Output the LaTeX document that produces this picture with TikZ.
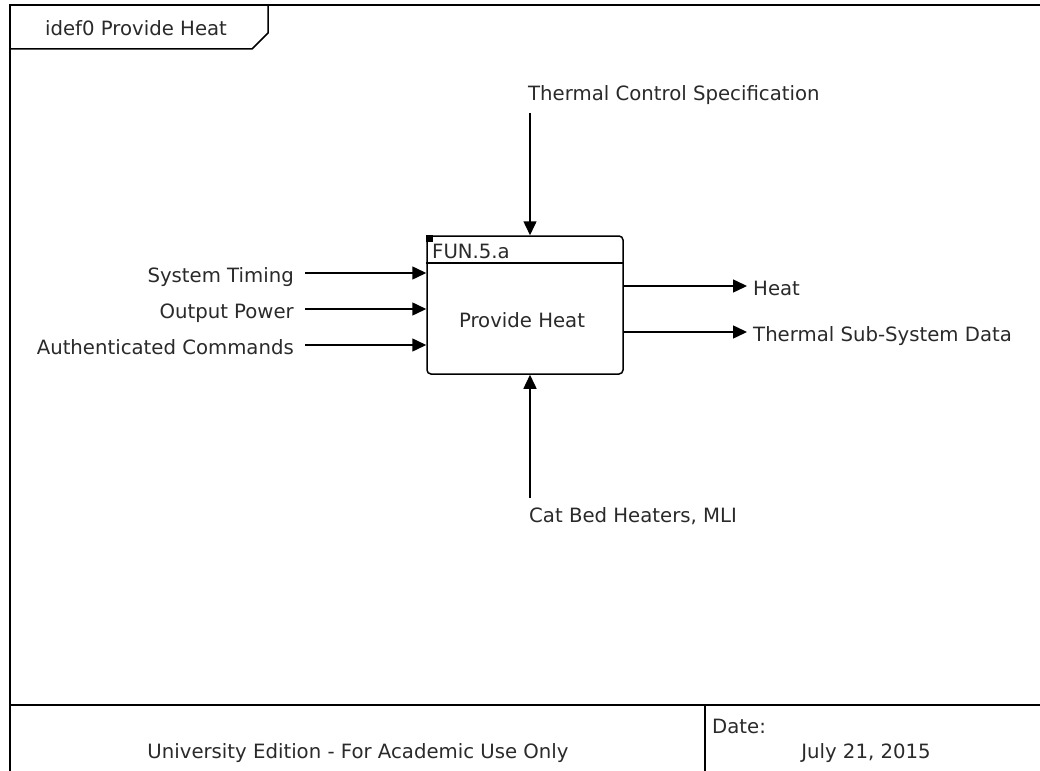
\documentclass[tikz,border=0pt]{standalone}
\usepackage{fontspec}
\setmainfont{DejaVu Sans}
\usetikzlibrary{arrows.meta}
\definecolor{txt}{HTML}{2A2A2A}
\begin{document}
\begin{tikzpicture}[x=1pt,y=-1pt,
  lbl/.style={inner sep=0pt, font=\fontsize{19.7}{24}\selectfont, text=txt},
  frameline/.style={line width=2.8pt, draw=black},
  flow/.style={line width=1.5pt, -{Triangle[length=14pt,width=13pt]}},
  funcbox/.style={draw, line width=1.5pt, rounded corners=4pt, minimum width=196pt, minimum height=138pt, inner sep=0pt}
]
\useasboundingbox (0,0) rectangle (1040,770);
\fill[white] (0,0) rectangle (1040,770);
% outer frame
\draw[frameline] (10,775) -- (10,5) -- (1045,5);
\draw[frameline] (10,705) -- (1045,705);
\draw[frameline] (705,705) -- (705,775);
% tab
\draw[line width=1.5pt] (10,49) -- (252,49) -- (268,33) -- (268,5);
\node[lbl, anchor=base] (tab) at (136,36) {idef0 Provide Heat};
% function box
\node[funcbox] (box) at (525,305) {};
\coordinate (hy) at (0,263);
\draw[line width=1.5pt] (box.west |- hy) -- (box.east |- hy);
\fill (box.north west) rectangle ++(7,7);
\node[lbl, anchor=base west] (fid) at (432,258) {FUN.5.a};
\node[lbl] (fname) at (522,320) {Provide Heat};
% inputs
\coordinate (s1) at (305,273);
\coordinate (s2) at (305,309);
\coordinate (s3) at (305,345);
\node[lbl, anchor=base east] (i1) at (294,282) {System Timing};
\node[lbl, anchor=base east] (i2) at (294,318) {Output Power};
\node[lbl, anchor=base east] (i3) at (294,354) {Authenticated Commands};
\draw[flow] (s1) -- (s1 -| box.west);
\draw[flow] (s2) -- (s2 -| box.west);
\draw[flow] (s3) -- (s3 -| box.west);
% outputs
\coordinate (e1) at (747,286);
\coordinate (e2) at (747,332);
\node[lbl, anchor=base west] (o1) at (753,295) {Heat};
\node[lbl, anchor=base west] (o2) at (753,341) {Thermal Sub-System Data};
\draw[flow] (e1 -| box.east) -- (e1);
\draw[flow] (e2 -| box.east) -- (e2);
% control
\coordinate (c1) at (530,113);
\node[lbl, anchor=base west] (ctl) at (528,101) {Thermal Control Specification};
\draw[flow] (c1) -- (c1 |- box.north);
% mechanism
\coordinate (m1) at (530,498);
\node[lbl, anchor=base west] (mech) at (529,522) {Cat Bed Heaters, MLI};
\draw[flow] (m1) -- (m1 |- box.south);
% footer
\node[lbl, anchor=base] (uni) at (358,758) {University Edition - For Academic Use Only};
\node[lbl, anchor=base west] (dlab) at (712,733) {Date:};
\node[lbl, anchor=base] (date) at (866,758) {July 21, 2015};
\end{tikzpicture}
\end{document}
